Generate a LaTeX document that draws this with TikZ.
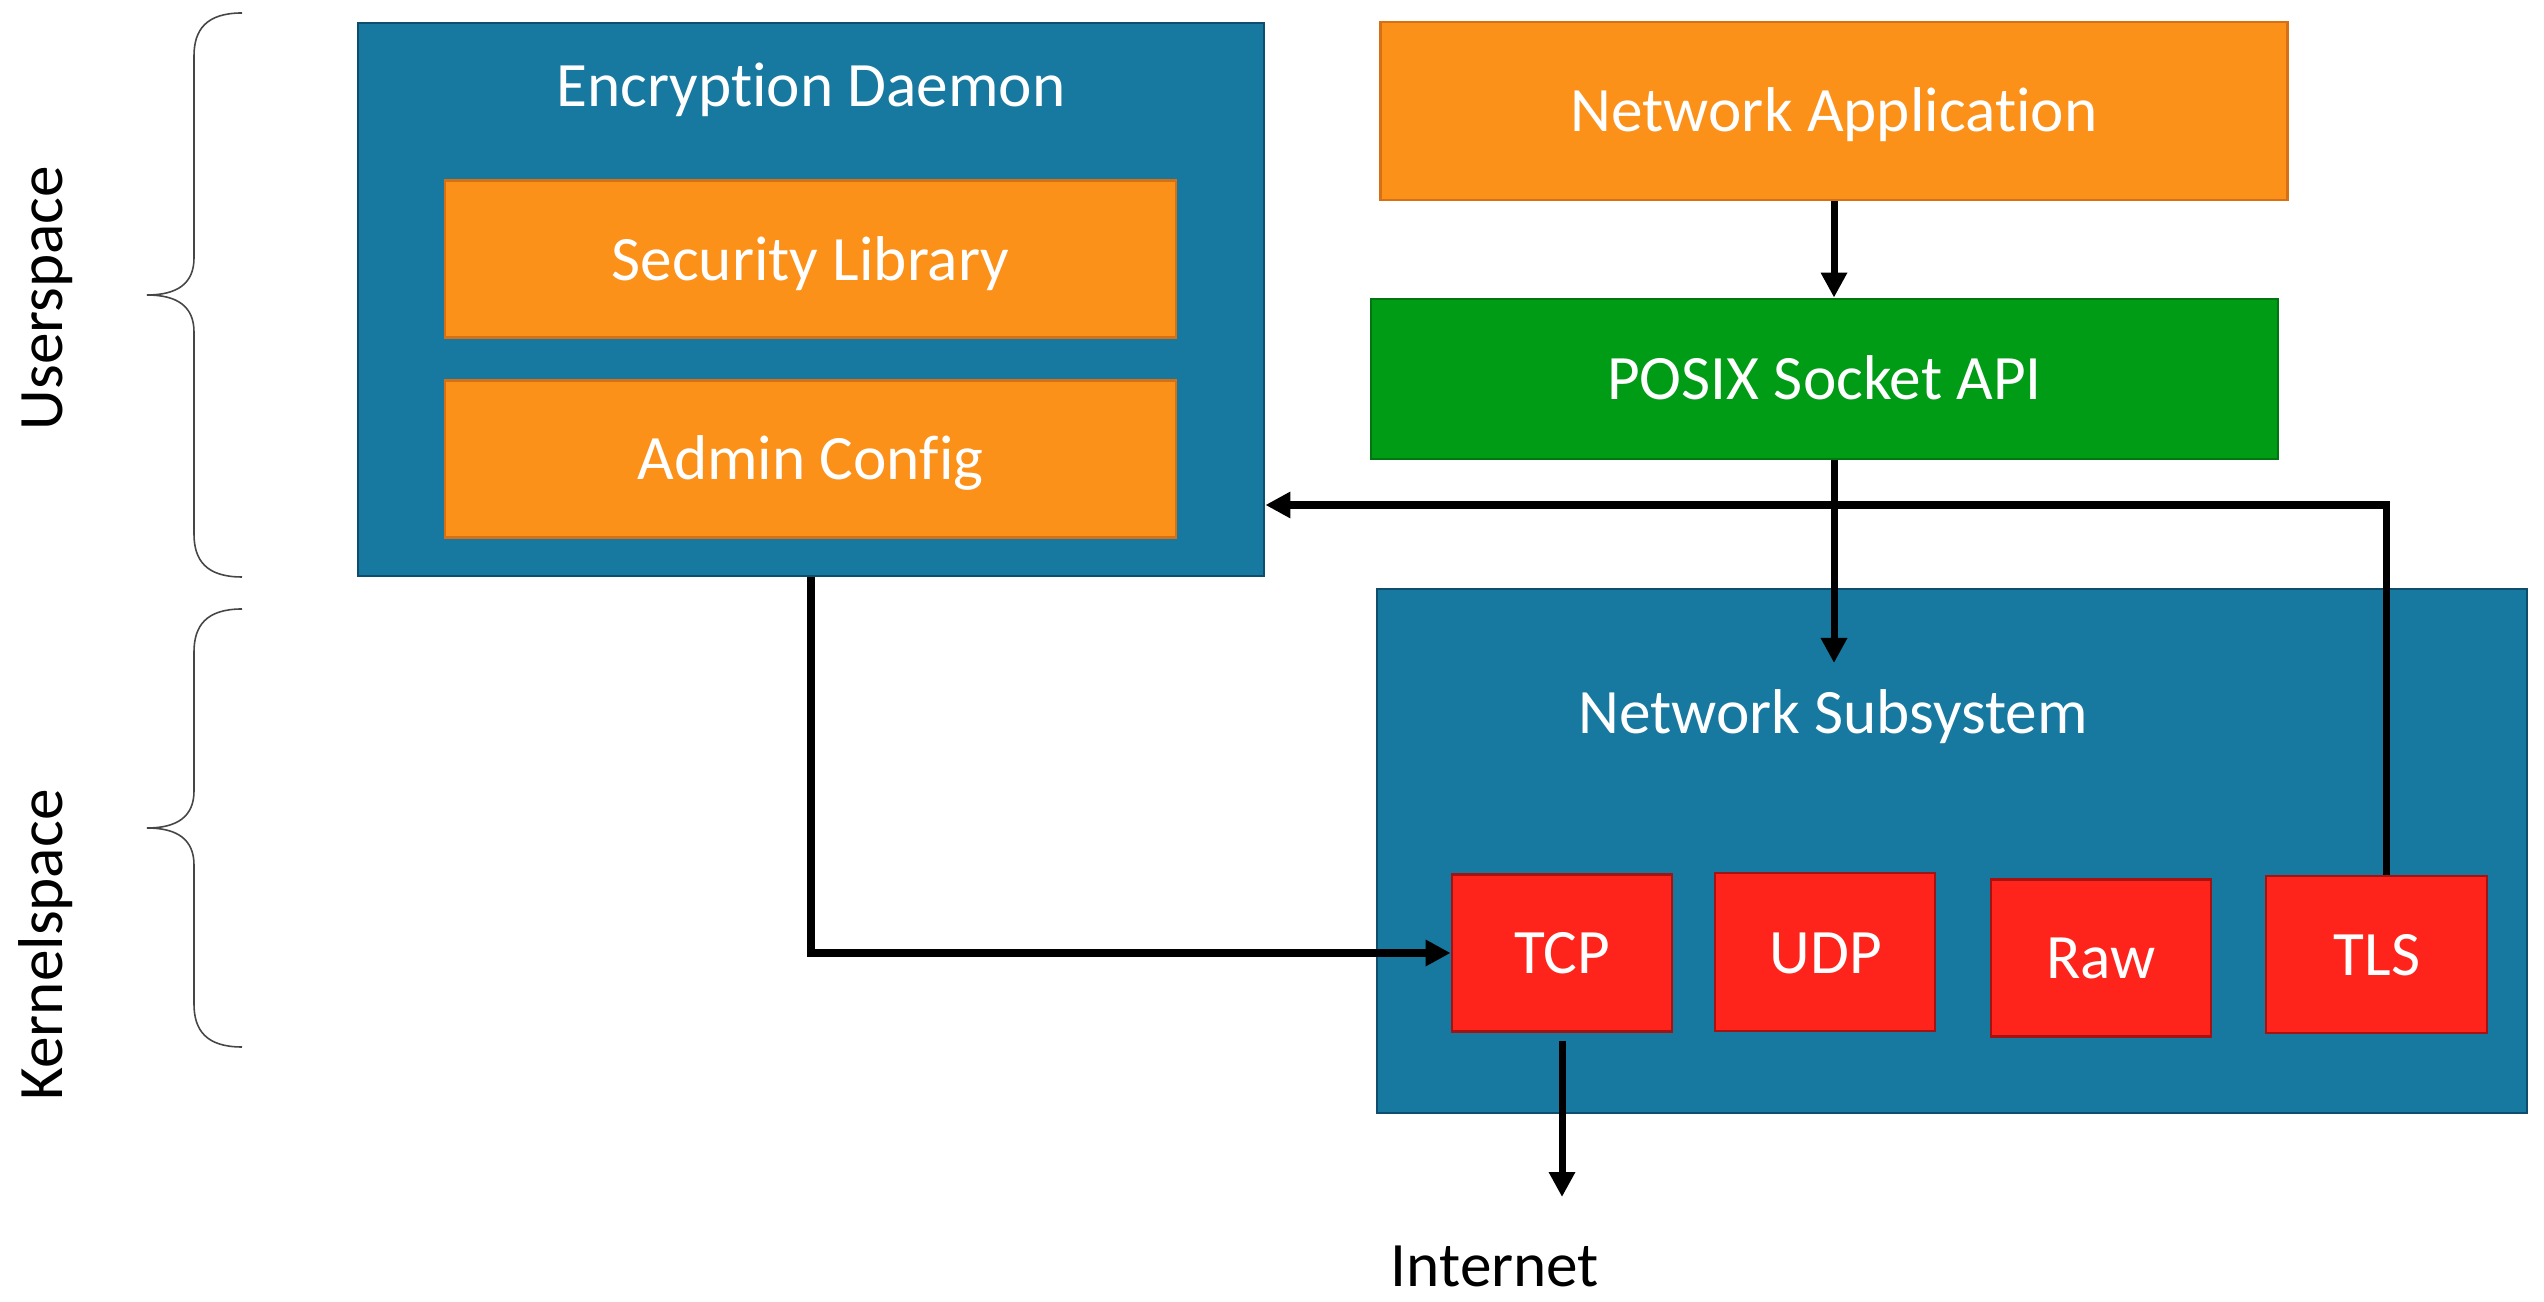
\documentclass[tikz,border=0pt]{standalone}
\usepackage{fontspec}
\setmainfont{Carlito}[Ligatures=NoCommon]
\usetikzlibrary{arrows.meta,calc}
\definecolor{bluefill}{RGB}{23,121,160}
\definecolor{blueline}{RGB}{14,78,108}
\definecolor{orfill}{RGB}{252,145,26}
\definecolor{orline}{RGB}{214,112,18}
\definecolor{grfill}{RGB}{0,156,22}
\definecolor{grline}{RGB}{0,118,16}
\definecolor{rdfill}{RGB}{254,35,27}
\definecolor{rdline}{RGB}{165,18,18}
\definecolor{bracecol}{RGB}{70,70,70}
\tikzset{
  boxbase/.style={rectangle, inner sep=0pt, line width=0.8pt},
  bluebox/.style={boxbase, fill=bluefill, draw=blueline},
  orbox/.style={boxbase, fill=orfill, draw=orline},
  grbox/.style={boxbase, fill=grfill, draw=grline},
  rdbox/.style={boxbase, fill=rdfill, draw=rdline},
  wlabel/.style={anchor=base, inner sep=0pt, text=white, font=\fontsize{18pt}{21pt}\selectfont},
  blabel/.style={anchor=base, inner sep=0pt, text=black, font=\fontsize{18pt}{21pt}\selectfont},
  conn/.style={line width=2pt, -{Triangle[length=2.5mm,width=2.5mm]}},
  bracepath/.style={draw=bracecol, line width=0.45pt}
}
\begin{document}
\begin{tikzpicture}[x=0.1mm,y=-0.1mm]
\useasboundingbox (0,0) rectangle (2544,1302);
\fill[white] (0,0) rectangle (2544,1302);

% braces
\draw[bracepath] (242,13) .. controls (206,13) and (194,30) .. (194,56) -- (194,258)
  .. controls (194,283) and (178,295) .. (147,295)
  .. controls (178,295) and (194,307) .. (194,332) -- (194,534)
  .. controls (194,560) and (206,577) .. (242,577);
\draw[bracepath] (242,609) .. controls (206,609) and (194,626) .. (194,652) -- (194,791)
  .. controls (194,816) and (178,828) .. (147,828)
  .. controls (178,828) and (194,840) .. (194,865) -- (194,1004)
  .. controls (194,1030) and (206,1047) .. (242,1047);
\node[blabel, rotate=90] (user) at (62,298) {Userspace};
\node[blabel, rotate=90] (kern) at (62,945) {Kernelspace};

% Encryption daemon
\node[bluebox, minimum width=90.6mm, minimum height=55.3mm] (ed) at (811,299.5) {};
\node[wlabel] (edt) at (811,107) {Encryption Daemon};
\node[orbox, minimum width=73.1mm, minimum height=15.7mm] (sl) at (810.5,259) {};
\node[wlabel] (slt) at (810.5,281) {Security Library};
\node[orbox, minimum width=73.1mm, minimum height=15.7mm] (ac) at (810.5,459) {};
\node[wlabel] (act) at (810.5,480) {Admin Config};

% Network application, POSIX
\node[orbox, minimum width=90.7mm, minimum height=17.8mm] (na) at (1834,111) {};
\node[wlabel] (nat) at (1834,132) {Network Application};
\node[grbox, minimum width=90.7mm, minimum height=16.0mm] (px) at (1824.5,379) {};
\node[wlabel] (pxt) at (1824.5,400) {POSIX Socket API};

% Network subsystem
\node[bluebox, minimum width=115.0mm, minimum height=52.4mm] (ns) at (1952,851) {};
\node[wlabel] (nst) at (1833,734) {Network Subsystem};
\node[rdbox, minimum width=22.0mm, minimum height=15.7mm] (tcp) at (1562,953) {};
\node[wlabel] (tcpt) at (1562,974) {TCP};
\node[rdbox, minimum width=22.0mm, minimum height=15.8mm] (udp) at (1825,952) {};
\node[wlabel] (udpt) at (1826,974) {UDP};
\node[rdbox, minimum width=22.0mm, minimum height=15.7mm] (raw) at (2101,958) {};
\node[wlabel] (rawt) at (2101,979) {Raw};
\node[rdbox, minimum width=22.1mm, minimum height=15.7mm] (tls) at (2376.5,954.5) {};
\node[wlabel] (tlst) at (2377,976) {TLS};

\node[blabel] (inet) at (1495,1286) {Internet};

% connectors
\coordinate (nsin) at ($(na.south |- 0,663)$);
\coordinate (edin) at ($(ed.east |- 0,505)$);
\coordinate (inetin) at ($(tcp.south |- 0,1197)$);
\draw[conn] (na.south) -- (na.south |- px.north);
\draw[conn] (na.south |- px.south) -- (nsin);
\draw[conn] ([xshift=1mm]tls.north) |- (edin);
\draw[conn] (ed.south) |- (tcp.west);
\draw[conn, shorten <=0.8mm] (tcp.south) -- (inetin);
\end{tikzpicture}
\end{document}
